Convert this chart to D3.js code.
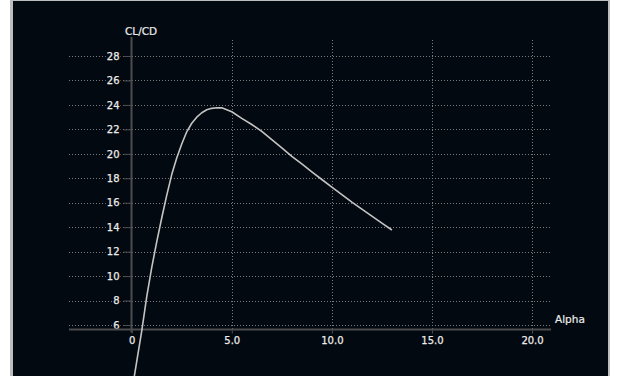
<!DOCTYPE html>
<html>
<head>
<meta charset="utf-8">
<script src="https://cdn.jsdelivr.net/npm/d3@7"></script>
<style>
  html, body { margin: 0; padding: 0; background: #ffffff; }
  svg { display: block; }
  text { font-family: "DejaVu Sans", Verdana, sans-serif; }
</style>
</head>
<body>
<svg id="chart" width="617" height="376"></svg>
<script>
// Lift-to-drag ratio versus angle of attack
const alpha = [0, 0.25, 0.5, 0.75, 1.0, 1.25, 1.5, 1.75, 2.0, 2.25, 2.5, 2.75, 3.0, 3.25, 3.5,
               3.75, 4.0, 4.25, 4.5, 5.0, 5.5, 6.0, 6.5, 7.0, 7.5, 8.0, 8.5, 9.0, 9.5, 10.0,
               10.5, 11.0, 11.5, 12.0, 12.5, 13.0];
const clcd  = [0.5, 3.0, 5.5, 8.3, 10.7, 12.8, 14.75, 16.6, 18.3, 19.65, 20.8, 21.8, 22.5, 23.0, 23.36,
               23.6, 23.72, 23.77, 23.76, 23.44, 22.9, 22.4, 21.84, 21.16, 20.48, 19.8, 19.17, 18.53, 17.9, 17.28,
               16.66, 16.05, 15.47, 14.9, 14.33, 13.77];

const xTicks = [0, 5, 10, 15, 20];
const xTickLabels = ["0", "5.0", "10.0", "15.0", "20.0"];
const yTicks = [6, 8, 10, 12, 14, 16, 18, 20, 22, 24, 26, 28];
const xTitle = "Alpha";
const yTitle = "CL/CD";

const svg = d3.select("#chart");

// panel frame: light edges and a dark plotting panel
svg.append("rect").attr("x", 10).attr("y", 0).attr("width", 600).attr("height", 376).attr("fill", "#bdbdbd");
svg.append("rect").attr("x", 13).attr("y", 1).attr("width", 595).attr("height", 375).attr("fill", "#030910");

const x = d3.scaleLinear().domain([0, 20]).range([131.7, 532]);
const y = d3.scaleLinear().domain([6, 28]).range([325, 56]);

const plotLeft = 69, plotRight = 550, plotTop = 40, axisY = 329.5, axisX = 131.5;

// dotted grid
const grid = svg.append("g").attr("stroke", "#7a7a7a").attr("stroke-width", 1)
  .attr("stroke-dasharray", "1,2").attr("fill", "none");
grid.selectAll("line.h").data(yTicks).join("line").attr("class", "h")
  .attr("x1", plotLeft).attr("x2", plotRight)
  .attr("y1", d => Math.round(y(d)) + 0.5).attr("y2", d => Math.round(y(d)) + 0.5);
grid.selectAll("line.v").data(xTicks.slice(1)).join("line").attr("class", "v")
  .attr("x1", d => Math.round(x(d)) + 0.5).attr("x2", d => Math.round(x(d)) + 0.5)
  .attr("y1", plotTop).attr("y2", axisY);

// axes
const yAxis = d3.axisLeft(y).tickValues(yTicks).tickSize(8).tickPadding(4).tickFormat(d3.format("d"));
const gy = svg.append("g").attr("transform", `translate(${axisX},0)`).call(yAxis);
gy.select(".domain").remove();
gy.selectAll(".tick line").attr("stroke", "#4d4d4d").attr("stroke-width", 1);

const xAxis = d3.axisBottom(x).tickValues(xTicks).tickSize(4).tickPadding(3)
  .tickFormat((d, i) => xTickLabels[i]);
const gx = svg.append("g").attr("transform", `translate(0,${axisY})`).call(xAxis);
gx.select(".domain").remove();
gx.selectAll(".tick line").attr("stroke", "#4d4d4d").attr("stroke-width", 1);

svg.selectAll(".tick text").attr("fill", "#ececec").attr("font-size", 10)
  .attr("stroke", "#ececec").attr("stroke-width", 0.25)
  .attr("font-family", "DejaVu Sans, Verdana, sans-serif");

// y labels sit on a small dark patch that interrupts the dotted grid
gy.selectAll(".tick text").each(function() {
  const bb = this.getBBox();
  d3.select(this.parentNode).insert("rect", "text")
    .attr("x", bb.x - 1).attr("y", bb.y).attr("width", bb.width + 2).attr("height", bb.height)
    .attr("fill", "#030910");
});

// axis lines
svg.append("line").attr("x1", plotLeft).attr("x2", plotRight + 1).attr("y1", axisY).attr("y2", axisY)
  .attr("stroke", "#4d4d4d").attr("stroke-width", 2);
svg.append("line").attr("x1", axisX).attr("x2", axisX).attr("y1", 37).attr("y2", axisY + 3)
  .attr("stroke", "#4d4d4d").attr("stroke-width", 2);

// titles
svg.append("text").attr("x", 125).attr("y", 35).attr("fill", "#ececec").attr("font-size", 10.5)
  .attr("stroke", "#ececec").attr("stroke-width", 0.2).text(yTitle);
svg.append("text").attr("x", 555).attr("y", 323).attr("fill", "#ececec").attr("font-size", 10.5)
  .attr("stroke", "#ececec").attr("stroke-width", 0.2).text(xTitle);

// curve
const line = d3.line().x((d, i) => x(alpha[i])).y(d => y(d));
svg.append("path").datum(clcd).attr("d", line)
  .attr("fill", "none").attr("stroke", "#c4c4c4").attr("stroke-width", 1.6)
  .attr("stroke-linejoin", "round");
</script>
</body>
</html>
